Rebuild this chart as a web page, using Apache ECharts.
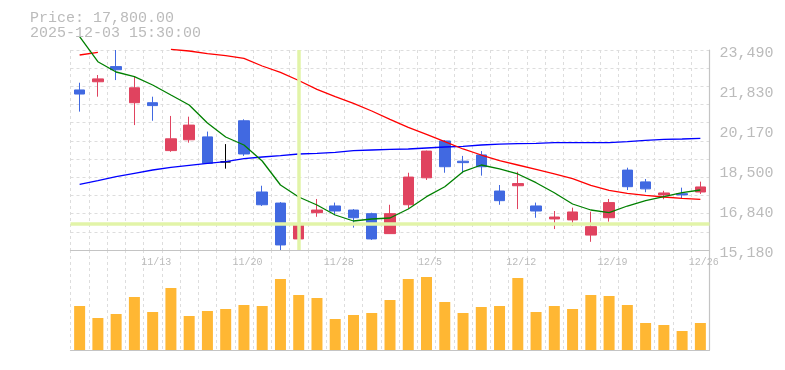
<!DOCTYPE html>
<html>
<head>
<meta charset="utf-8">
<script src="https://cdn.jsdelivr.net/npm/echarts@6/dist/echarts.min.js"></script>
<style>
html,body{margin:0;padding:0;background:#fff;}
#chart{width:785px;height:370px;}
</style>
</head>
<body>
<div id="chart"></div>
<script>
const dates = ['11/7','11/10','11/11','11/12','11/13','11/14','11/17','11/18','11/19','11/20','11/21','11/25','11/26','11/27','11/28','12/1','12/2','12/3','12/4','12/5','12/8','12/9','12/10','12/11','12/12','12/15','12/16','12/17','12/18','12/19','12/22','12/23','12/24','12/25','12/26'];
const openP  = [21830,22170,22800,21300,21300,19310,19760,19880,18840,20550,17590,17130,15640,16730,17010,16840,16690,15860,17060,18180,19710,18870,19130,17630,17850,17010,16470,16430,15800,16520,18500,18010,17470,17520,17590];
const closeP = [21660,22290,22670,21920,21180,19800,20370,18780,18840,19170,17060,15390,16260,16840,16800,16520,15640,16690,18210,19290,18640,18810,18640,17230,17940,16800,16550,16760,16150,17150,17810,17720,17550,17470,17800];
const lowP   = [20930,21550,22240,20370,20550,19260,19640,18780,18560,19090,17010,15180,15520,16560,16630,16110,15600,15850,16910,18090,18390,18370,18270,17060,16880,16520,16050,16180,15520,16360,17670,17580,17290,17340,17510];
const highP  = [22130,22450,23490,22380,21550,20750,20720,20100,19580,20610,17850,17170,16660,17300,17150,16880,16730,17060,18390,19310,19750,19090,19290,17880,18430,17150,16800,16940,16770,17300,18600,18130,17640,17770,18020];
const maShort = [24043,23004,22576,22381,22036,21620,21205,20457,19875,19543,18878,17881,17382,17050,16634,16385,16468,16510,16884,17395,17810,18433,18712,18546,18338,17976,17561,17091,16842,16730,17008,17228,17395,17561,17673];
const maMid = [23282,23394,null,null,null,23519,23448,23336,23253,23145,22825,22563,22223,21857,21550,21275,20955,20611,20278,19987,19680,19377,19127,18890,18712,18533,18338,18143,17868,17661,17536,17453,17382,17328,17287];
const maLong = [17910,18059,18226,18367,18504,18616,18699,18782,18849,18974,19044,19098,19169,19198,19239,19306,19335,19364,19377,19418,19460,19489,19543,19576,19597,19613,19638,19638,19638,19638,19680,19738,19780,19792,19821];
const volume = [4400,3200,3600,5300,3800,6200,3400,3900,4100,4500,4400,7100,5500,5200,3100,3500,3700,5000,7100,7300,4800,3700,4300,4400,7200,3800,4400,4100,5500,5400,4500,2700,2500,1900,2700];
const priceTickLabels = ['15,180','16,840','18,500','20,170','21,830','23,490'];
const priceMin = 15180, priceMax = 23490;
const cursorIndex = 12;
const cursorPrice = 16260;
const headerLines = ['Price: 17,800.00', '2025-12-03 15:30:00'];

const FONT = 'Liberation Mono, DejaVu Sans Mono, monospace';
const GRID_LEFT = 70.5, GRID_W = 639;
const AXIS_COLOR = '#c4c4c4';
const chart = echarts.init(document.getElementById('chart'), null, {renderer: 'canvas'});
const candleData = openP.map((o, i) => [o, closeP[i], lowP[i], highP[i]]);

chart.setOption({
  animation: false,
  backgroundColor: '#fff',
  title: {
    text: headerLines.join('\n'),
    left: 30, top: 11, padding: 0,
    textStyle: {fontFamily: FONT, fontSize: 15, lineHeight: 15, color: '#bbb', fontWeight: 'normal'}
  },
  grid: [
    {left: GRID_LEFT, width: GRID_W, top: 50, height: 200},
    {left: GRID_LEFT, width: GRID_W, top: 250, height: 100}
  ],
  xAxis: [
    {type: 'category', gridIndex: 0, data: dates, boundaryGap: true, position: 'bottom',
     axisLine: {show: true, lineStyle: {color: AXIS_COLOR, width: 1.2}},
     axisTick: {show: false},
     axisLabel: {show: true, interval: (i) => i % 5 === 4, color: '#bbb', fontFamily: FONT, fontSize: 10, lineHeight: 12, margin: 6, padding: [0,0,0,7]},
     splitLine: {show: true, interval: 0, lineStyle: {color: '#ddd', type: [3, 3], width: 1}}},
    {type: 'category', gridIndex: 1, data: dates, boundaryGap: true, position: 'bottom',
     axisLine: {show: true, lineStyle: {color: AXIS_COLOR, width: 1.2}},
     axisTick: {show: false}, axisLabel: {show: false},
     splitLine: {show: true, interval: 0, lineStyle: {color: '#ddd', type: [3, 3], width: 1}}}
  ],
  yAxis: [
    {type: 'value', gridIndex: 0, min: priceMin, max: priceMax, position: 'right', scale: true,
     axisLine: {show: true, lineStyle: {color: AXIS_COLOR, width: 1.2}}, axisTick: {show: false},
     axisLabel: {show: false}, splitLine: {show: false}},
    {type: 'value', gridIndex: 0, min: 0, max: 5, interval: 1, position: 'right',
     axisLine: {show: false}, axisTick: {show: false}, splitLine: {show: false},
     axisLabel: {show: true, margin: 10, color: '#bbb', fontFamily: FONT, fontSize: 15,
       verticalAlign: 'top', lineHeight: 7,
       showMinLabel: true, showMaxLabel: true,
       formatter: (v) => priceTickLabels[Math.round(v)]}},
    {type: 'value', gridIndex: 0, min: 0, max: 11, interval: 1, position: 'left',
     axisLine: {show: false}, axisTick: {show: false}, axisLabel: {show: false},
     splitLine: {show: true, lineStyle: {color: '#ddd', type: [3, 3], width: 1}}},
    {type: 'value', gridIndex: 1, min: 0, max: 10000, position: 'right',
     axisLine: {show: true, lineStyle: {color: AXIS_COLOR, width: 1.2}}, axisTick: {show: false},
     axisLabel: {show: false}, splitLine: {show: false}}
  ],
  series: [
    {type: 'line', xAxisIndex: 0, yAxisIndex: 0, data: [], z: 1, silent: true,
     markLine: {silent: true, symbol: ['none', 'none'], label: {show: false},
       lineStyle: {color: '#e2f4a8', width: 3.5, type: 'solid'},
       data: [{xAxis: cursorIndex}, {yAxis: cursorPrice}]}},
    {type: 'candlestick', xAxisIndex: 0, yAxisIndex: 0, data: candleData, barWidth: 11, z: 2,
     itemStyle: {color: '#e0435f', color0: '#4169e1', borderColor: '#e0435f', borderColor0: '#4169e1', borderColorDoji: '#000', borderWidth: 1}},
    {type: 'line', xAxisIndex: 0, yAxisIndex: 0, data: maLong, symbol: 'none', clip: false, z: 3,
     lineStyle: {color: '#0000ff', width: 1.3}},
    {type: 'line', xAxisIndex: 0, yAxisIndex: 0, data: maMid, symbol: 'none', clip: false, z: 3, connectNulls: false,
     lineStyle: {color: '#ff0000', width: 1.3}},
    {type: 'line', xAxisIndex: 0, yAxisIndex: 0, data: maShort, symbol: 'none', clip: false, z: 3,
     lineStyle: {color: '#008000', width: 1.3}},
    {type: 'bar', xAxisIndex: 1, yAxisIndex: 3, data: volume, barWidth: 11,
     itemStyle: {color: '#ffb733'}}
  ]
});
</script>
</body>
</html>
